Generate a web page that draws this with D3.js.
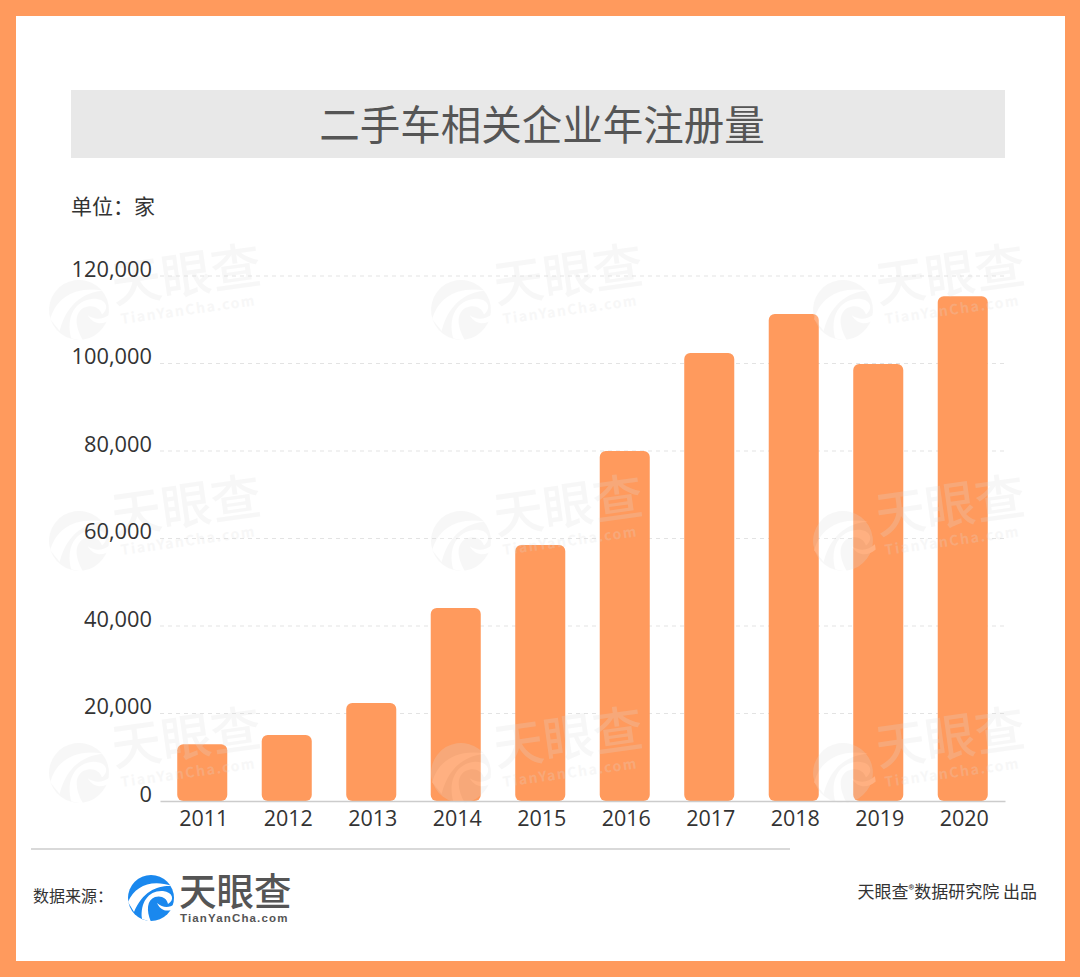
<!DOCTYPE html>
<html>
<head>
<meta charset="utf-8">
<script src="https://cdn.jsdelivr.net/npm/d3@7"></script>
<style>
html, body { margin: 0; padding: 0; background: #fff; }
svg { display: block; }
text { font-family: "Noto Sans CJK SC", "Noto Sans", sans-serif; }
</style>
</head>
<body>
<div id="chart"></div>
<script>
const years = ["2011", "2012", "2013", "2014", "2015", "2016", "2017", "2018", "2019", "2020"];
const counts = [13000, 15100, 22400, 44100, 58500, 80000, 102400, 111300, 99900, 115400];
const yTicks = [0, 20000, 40000, 60000, 80000, 100000, 120000];
const watermarkColumns = [46, 428, 810];
const watermarkRows = [262, 493, 725];

const width = 1080;
const height = 977;
const orange = "#ff9a5d";

const svg = d3.select("#chart").append("svg")
    .attr("width", width)
    .attr("height", height);

// Frame
svg.append("rect").attr("width", width).attr("height", height).attr("fill", orange);
svg.append("rect").attr("x", 16).attr("y", 16).attr("width", 1049).attr("height", 945).attr("fill", "#fff");

// Title band
svg.append("rect").attr("x", 71).attr("y", 90).attr("width", 934).attr("height", 68).attr("fill", "#e8e8e8");
svg.append("text").attr("x", 542).attr("y", 140)
    .attr("text-anchor", "middle")
    .attr("font-size", 40.5)
    .attr("fill", "#555")
    .text("二手车相关企业年注册量");

svg.append("text").attr("x", 71).attr("y", 214)
    .attr("font-size", 21)
    .attr("fill", "#333")
    .text("单位：家");

// Swirl logo, drawn around its own centre at radius 23
function drawSwirl(g, fill, cut) {
    g.append("circle").attr("r", 23).attr("fill", fill);
    g.append("path")
        .attr("d", "M-23,4 C-16,-12 0,-19 21,-12 C8,-13 -8,-8 -17,14 Z")
        .attr("fill", cut);
    g.append("path")
        .attr("d", "M-9,21 C-11,4 -2,-8 12,-7 C22,-6 24,2 17,6 C16,0 10,-3 4,-1 C-4,2 -5,12 0,24 Z")
        .attr("fill", cut);
    g.append("path")
        .attr("d", "M6,5 C12,10 18,10 24,6 L24,10 C18,14 10,14 6,5 Z")
        .attr("fill", cut);
}

// Scales
const x = d3.scaleBand()
    .domain(years)
    .range([160, 1005])
    .paddingInner(0.408)
    .paddingOuter(0.204);

const y = d3.scaleLinear()
    .domain([0, 120000])
    .range([801, 276]);

// Dashed grid lines
svg.append("g").selectAll("line")
    .data(yTicks.filter(d => d > 0))
    .join("line")
    .attr("x1", 160).attr("x2", 1005)
    .attr("y1", d => y(d)).attr("y2", d => y(d))
    .attr("stroke", "#e3e3e3")
    .attr("stroke-dasharray", "4 4");

// Bars
svg.append("g").selectAll("rect")
    .data(years)
    .join("rect")
    .attr("x", d => x(d))
    .attr("y", (d, i) => y(counts[i]))
    .attr("width", x.bandwidth())
    .attr("height", (d, i) => y(0) - y(counts[i]))
    .attr("rx", 6)
    .attr("fill", orange);

// Watermarks sit over the bars and only just lighten them
watermarkColumns.forEach(wx => {
    watermarkRows.forEach(wy => {
        const g = svg.append("g")
            .attr("transform", `translate(${wx},${wy}) rotate(-8)`)
            .attr("opacity", 0.22);
        const swirl = g.append("g").attr("transform", "translate(26,52) scale(1.3)");
        drawSwirl(swirl, "#dcdcdc", "#fff");
        g.append("text").attr("x", 62).attr("y", 50)
            .attr("font-size", 50).attr("font-weight", 500)
            .attr("fill", "#dcdcdc").text("天眼查");
        g.append("text").attr("x", 66).attr("y", 72)
            .attr("font-size", 14).attr("font-weight", 700)
            .attr("letter-spacing", 1.6)
            .attr("fill", "#dcdcdc").text("TianYanCha.com");
    });
});

// Y axis labels
const yAxis = d3.axisLeft(y)
    .tickValues(yTicks)
    .tickFormat(d3.format(","))
    .tickSize(0)
    .tickPadding(0);

const yG = svg.append("g")
    .attr("transform", "translate(152,-1)")
    .call(yAxis);
yG.select(".domain").remove();
yG.selectAll("text")
    .attr("font-size", 21.8)
    .attr("fill", "#333")
    .attr("dy", "0.05em")
    .style("font-family", "'Open Sans', sans-serif");

// X axis
const xAxis = d3.axisBottom(x).tickSize(0).tickPadding(10);
const xG = svg.append("g")
    .attr("transform", "translate(0,801)")
    .call(xAxis);
xG.select(".domain")
    .attr("stroke", "#ccc")
    .attr("stroke-width", 1.5);
xG.selectAll("text")
    .attr("font-size", 21.5)
    .attr("fill", "#333")
    .attr("dx", 1.5)
    .style("font-family", "'Open Sans', sans-serif");

// Footer
svg.append("line")
    .attr("x1", 31).attr("x2", 790)
    .attr("y1", 849).attr("y2", 849)
    .attr("stroke", "#ccc")
    .attr("stroke-width", 1.5);

svg.append("text").attr("x", 33).attr("y", 902)
    .attr("font-size", 16)
    .attr("fill", "#333")
    .text("数据来源：");

const logo = svg.append("g").attr("transform", "translate(151,898)");
drawSwirl(logo, "#1a88ee", "#fff");

svg.append("text").attr("x", 179).attr("y", 905)
    .attr("font-size", 37.5).attr("font-weight", 500)
    .attr("fill", "#555")
    .text("天眼查");
svg.append("text").attr("x", 180).attr("y", 922)
    .attr("font-size", 11.5).attr("font-weight", 700)
    .attr("letter-spacing", 1.15)
    .attr("fill", "#555")
    .style("font-family", "'Liberation Sans', sans-serif")
    .text("TianYanCha.com");

const credit = svg.append("text").attr("x", 1037).attr("y", 898)
    .attr("text-anchor", "end")
    .attr("font-size", 17)
    .attr("fill", "#333");
credit.append("tspan").text("天眼查");
credit.append("tspan").attr("font-size", 12).attr("dy", -4).text("®");
credit.append("tspan").attr("dy", 4).text("数据研究院 出品");
</script>
</body>
</html>
